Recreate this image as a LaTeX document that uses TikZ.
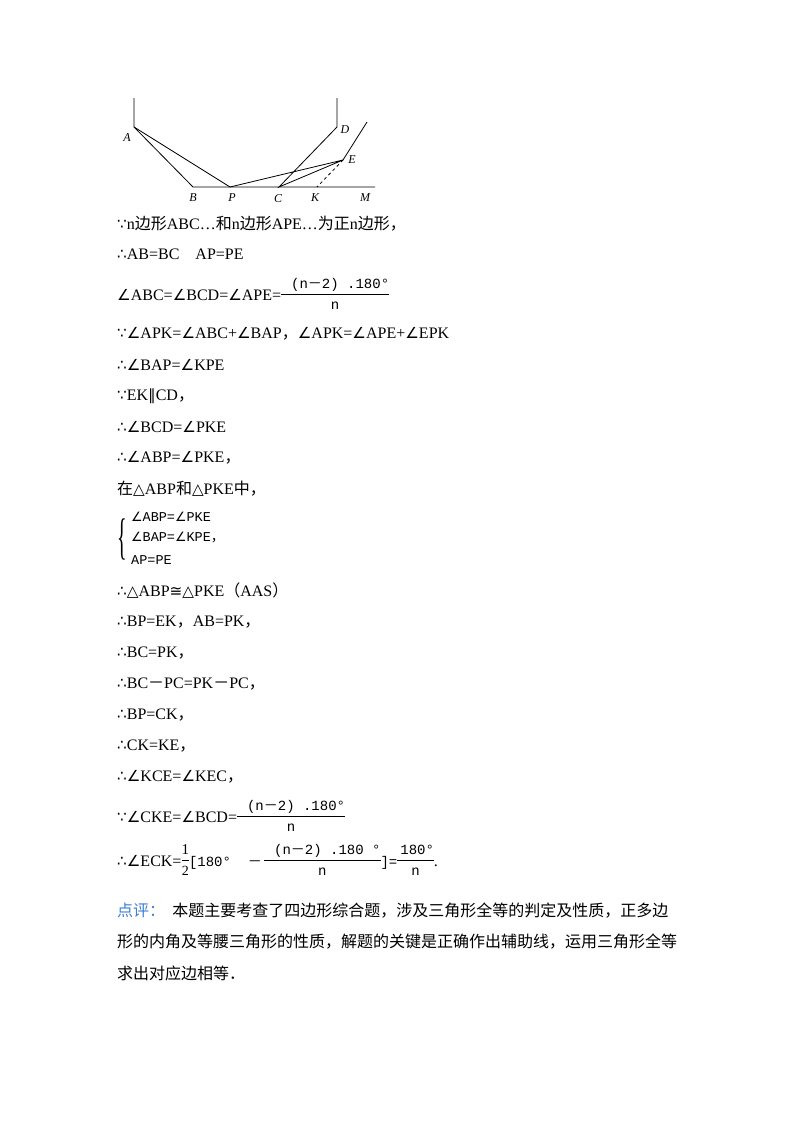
\documentclass[tikz,border=0pt]{standalone}
\usepackage{fontspec}
\setmainfont{Liberation Serif}
\newfontfamily\cjk{Noto Sans CJK SC}
\newfontfamily\sym{DejaVu Sans}[Scale=0.95]
\newfontfamily\mono{Liberation Mono}
\newcommand{\C}[1]{{\cjk #1}}
\newcommand{\Sy}[1]{{\sym #1}}
\newcommand{\Fr}[3][4pt]{\ensuremath{\vcenter{\hbox{\mono\fontsize{14}{15}\selectfont\setlength{\tabcolsep}{0pt}\begin{tabular}{@{}c@{}}\hspace{#1}#2\hspace{#1}\\[1pt]\hline\rule{0pt}{15pt}#3\end{tabular}}}}}
\begin{document}
\begin{tikzpicture}[x=1pt,y=-1pt,
  t/.style={anchor=west,inner sep=0pt,font=\fontsize{16}{17}\selectfont},
  tm/.style={anchor=west,inner sep=0pt,font=\mono\fontsize{13.5}{14}\selectfont},
  lab/.style={inner sep=0pt,font=\itshape\fontsize{12}{13}\selectfont},
  seg/.style={line width=0.8pt}]
\useasboundingbox (0,0) rectangle (800,1132);
% figure
\coordinate (A0) at (134,98); \coordinate (A) at (134,127);
\coordinate (B) at (193,187); \coordinate (P) at (230,187);
\coordinate (C) at (279,187); \coordinate (K) at (317,187);
\coordinate (M) at (375,187); \coordinate (D0) at (337,98);
\coordinate (D) at (337,127); \coordinate (E) at (343,160);
\coordinate (E1) at (367,122);
\draw[seg] (A0)--(A)--(B)--(M);
\draw[seg] (A)--(P)--(E)--(C)--(D)--(D0);
\draw[seg] (E)--(E1);
\draw[seg,dashed] (E)--(K);
\node[lab] at (127,138) {A}; \node[lab] at (193,198) {B};
\node[lab] at (232,198) {P}; \node[lab] at (278,199) {C};
\node[lab] at (315,198) {K}; \node[lab] at (365,198) {M};
\node[lab] at (345,130) {D}; \node[lab] at (352,160) {E};
% text
\node[t] (l1) at (117,224) {\Sy{∵}n\C{边形}ABC…\C{和}n\C{边形}APE…\C{为正}n\C{边形，}};
\node[t] (l2) at (117,254) {\Sy{∴}AB=BC\quad AP=PE};
\node[t] (l3) at (117,296) {\Sy{∠}ABC=\Sy{∠}BCD=\Sy{∠}APE=\Fr[10pt]{(n\C{－}2) .180°}{n}};
\node[t] at (117,334) {\Sy{∵∠}APK=\Sy{∠}ABC+\Sy{∠}BAP\C{，}\Sy{∠}APK=\Sy{∠}APE+\Sy{∠}EPK};
\node[t] at (117,365) {\Sy{∴∠}BAP=\Sy{∠}KPE};
\node[t] at (117,396) {\Sy{∵}EK\Sy{∥}CD\C{，}};
\node[t] at (117,427) {\Sy{∴∠}BCD=\Sy{∠}PKE};
\node[t] at (117,458) {\Sy{∴∠}ABP=\Sy{∠}PKE\C{，}};
\node[t] at (117,489) {\C{在}\Sy{△}ABP\C{和}\Sy{△}PKE\C{中，}};
\node[inner sep=0pt,font=\fontsize{40}{40}\selectfont,yscale=1.25,xscale=0.5] at (122,539) {\{};
\node[tm] at (131,517) {\Sy{∠}ABP=\Sy{∠}PKE};
\node[tm] at (131,538) {\Sy{∠}BAP=\Sy{∠}KPE\C{，}};
\node[tm] at (131,560) {AP=PE};
\node[t] at (117,591) {\Sy{∴△}ABP\Sy{≅△}PKE\C{（}AAS\C{）}};
\node[t] at (117,622) {\Sy{∴}BP=EK\C{，}AB=PK\C{，}};
\node[t] at (117,653) {\Sy{∴}BC=PK\C{，}};
\node[t] at (117,684) {\Sy{∴}BC\C{－}PC=PK\C{－}PC\C{，}};
\node[t] at (117,715) {\Sy{∴}BP=CK\C{，}};
\node[t] at (117,746) {\Sy{∴}CK=KE\C{，}};
\node[t] at (117,777) {\Sy{∴∠}KCE=\Sy{∠}KEC\C{，}};
\node[t] at (117,818) {\Sy{∵∠}CKE=\Sy{∠}BCD=\Fr[10pt]{(n\C{－}2) .180°}{n}};
\node[t] at (117,862) {\Sy{∴∠}ECK=\Fr[0pt]{\fontsize{15}{15}\selectfont\rmfamily 1}{\rmfamily 2}{\mono\fontsize{14}{15}\selectfont[180°\ \ \C{－}\,}\Fr[10pt]{(n\C{－}2) .180 °}{n}{\mono\fontsize{14}{15}\selectfont]=}\Fr[3pt]{180°}{n}.};
\node[t,font=\cjk\fontsize{16}{17}\selectfont] at (117,911) {\textcolor[HTML]{3C7FD6}{点评：}\ \ 本题主要考查了四边形综合题，涉及三角形全等的判定及性质，正多边};
\node[t,font=\cjk\fontsize{16}{17}\selectfont] at (117,942) {形的内角及等腰三角形的性质，解题的关键是正确作出辅助线，运用三角形全等};
\node[t,font=\cjk\fontsize{16}{17}\selectfont] at (117,973) {求出对应边相等．};
\end{tikzpicture}
\end{document}
